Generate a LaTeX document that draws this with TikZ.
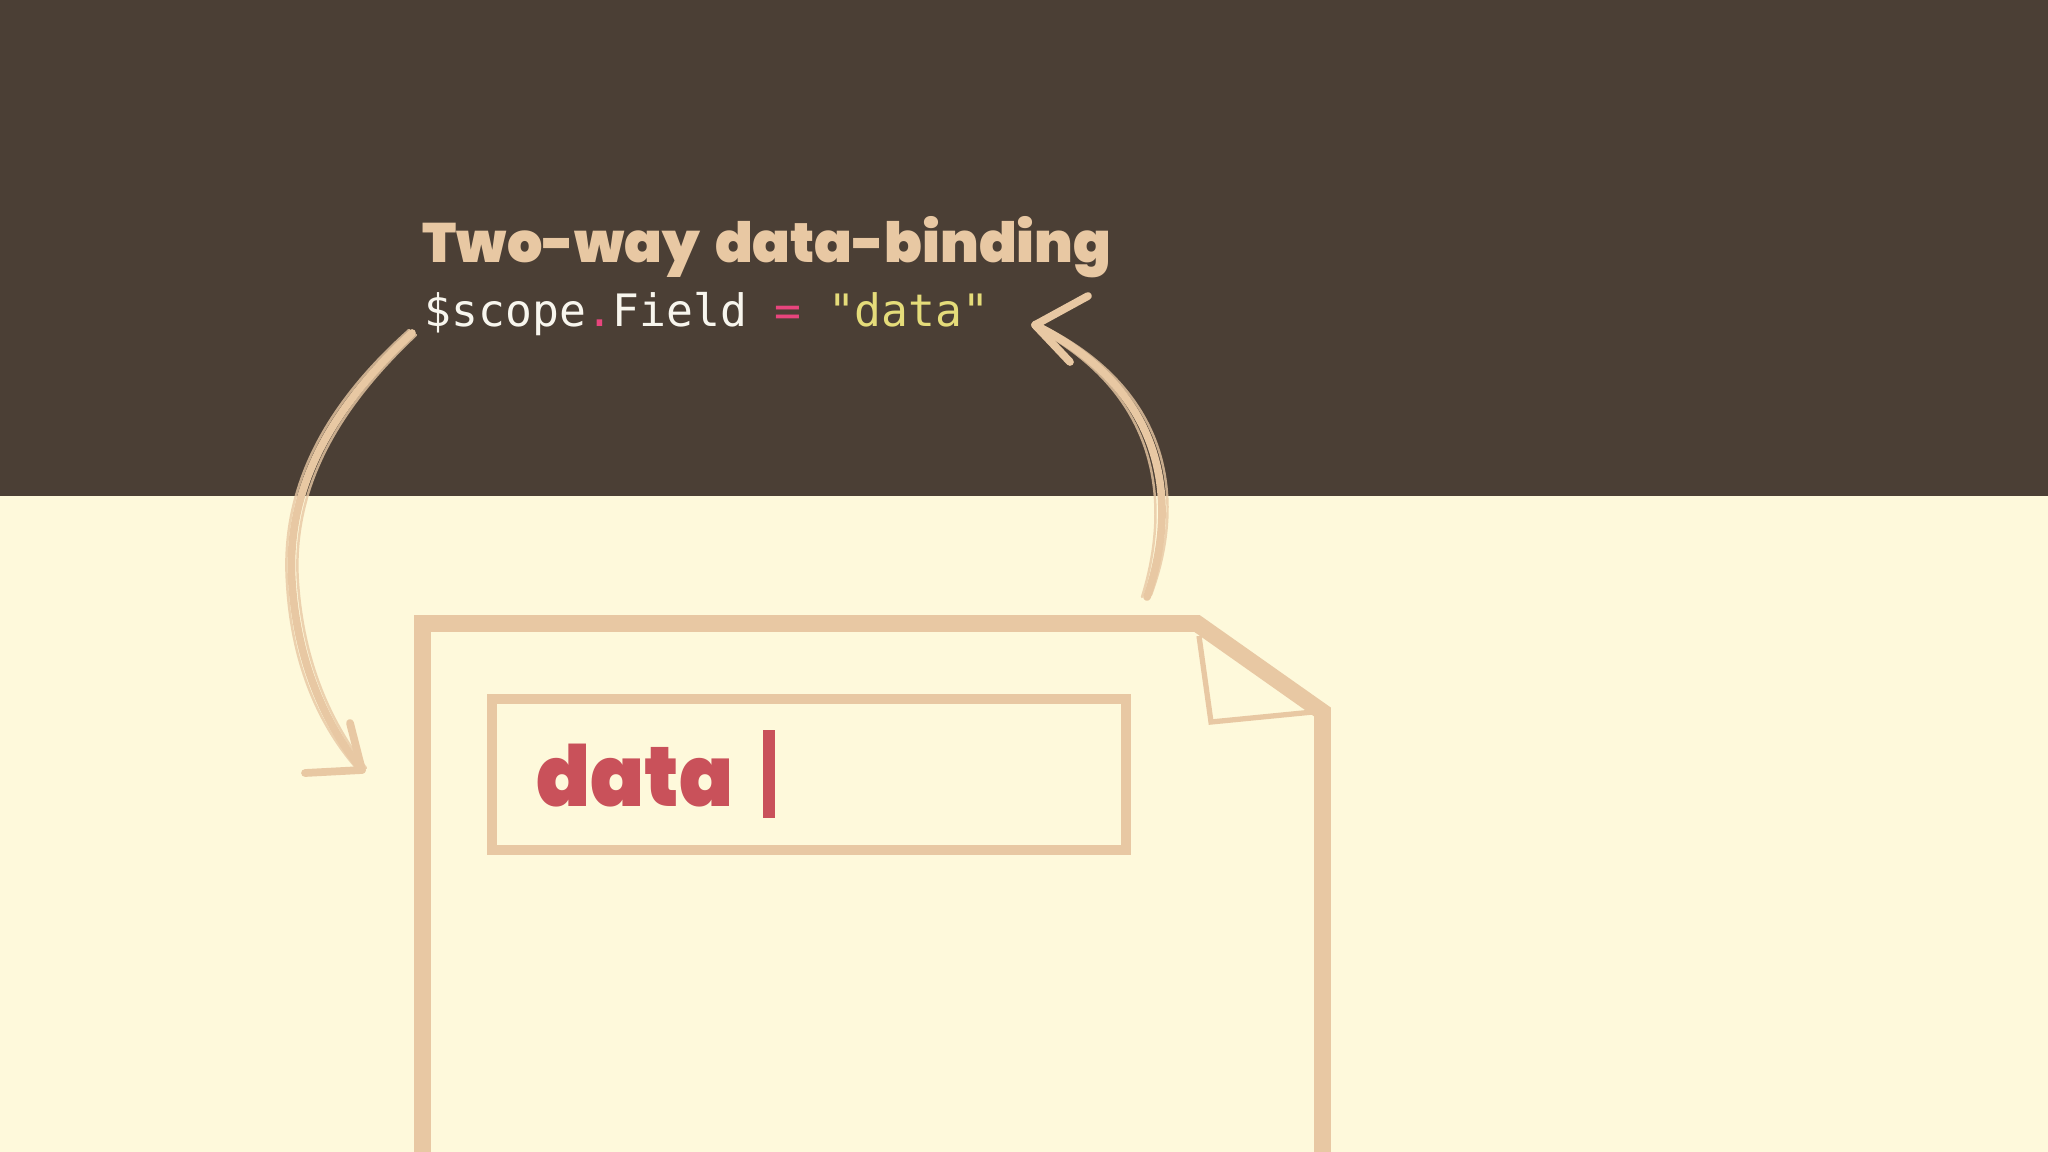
\documentclass[tikz,border=0pt]{standalone}
\usepackage{fontspec}
\setmainfont{Lato}
\setmonofont{DejaVu Sans Mono}
\IfFontExistsTF{Poppins Black}{\newfontfamily\heavyfont{Poppins Black}[WordSpace=1.6]\newfontfamily\condfont{Poppins Black}[FakeStretch=0.94]}{\newfontfamily\heavyfont{Lato Black}\newfontfamily\condfont{Lato Black}}
\usetikzlibrary{positioning}
\definecolor{bgdark}{HTML}{4B3F35}
\definecolor{bgcream}{HTML}{FEF9DB}
\definecolor{sand}{HTML}{E8C8A3}
\definecolor{datared}{HTML}{C9515A}
\definecolor{codewhite}{HTML}{F8F6EE}
\definecolor{codepink}{HTML}{E8457D}
\definecolor{codeyellow}{HTML}{E5DC7A}

\begin{document}
\begin{tikzpicture}[x=0.01cm, y=-0.01cm,
					brush/.style={draw=sand, line width=2.2pt, line cap=round, line join=round},
					brush trace/.style={draw=sand, line width=0.7pt, line cap=round, opacity=0.8},
					heading/.style={text=sand, font=\heavyfont\fontsize{15.8}{20}\selectfont, inner sep=0pt, anchor=base west},
					codeline/.style={font=\ttfamily\fontsize{12.7}{15}\selectfont, inner sep=0pt, anchor=base west},
					inputbox/.style={draw=sand, line width=3pt, minimum width=6.34cm, minimum height=1.51cm, inner sep=0pt},
					inputtext/.style={text=datared, font=\condfont\fontsize{24}{28}\selectfont, inner sep=0pt, anchor=base west},
					caretbar/.style={fill=datared, minimum width=0.12cm, minimum height=0.88cm, inner sep=0pt}]
					\useasboundingbox (0,0) rectangle (2048,1152);
					\clip (0,0) rectangle (2048,1152);
					\fill[bgcream] (0,0) rectangle (2048,1152);
					\fill[bgdark] (0,0) rectangle (2048,496);
					\node[heading] (title) at (422,263) {Two-way data-binding};
					\node[codeline] (code) at (424,327) {\color{codewhite}\$scope\color{codepink}.\color{codewhite}Field \color{codepink}= \color{codeyellow}"data"};
					\draw[sand, line width=4.8pt, line join=miter] (422.5,1190) -- (422.5,623.5) -- (1197,623.5) -- (1322.5,712) -- (1322.5,1190);
					\draw[sand, line width=1.5pt, line join=miter] (1199,636) -- (1211,722) -- (1313,712);
					\node[inputbox] (field) at (809,774.5) {};
					\node[inputtext] (word) at (536,806) {data};
					\node[caretbar, anchor=west] (caret) at (762,774) {};
					\coordinate (down start) at (412,333);
					\coordinate (down end) at (362,770);
					\coordinate (up start) at (1147,597);
					\coordinate (up end) at (1035,325);
					\draw[brush] (down start) .. controls (340,400) and (285,480) .. (292,583) .. controls (298,670) and (330,730) .. (down end);
					\draw[brush trace] ([shift={(4,2)}]down start) .. controls (345,402) and (291,482) .. (298,583) .. controls (304,668) and (334,726) .. ([shift={(4,-2)}]down end);
					\draw[brush trace] ([shift={(-3,-3)}]down start) .. controls (333,398) and (280,480) .. (287,583) .. controls (292,672) and (324,732) .. ([shift={(-3,1)}]down end);
					\draw[brush] (305,773) -- (down end) -- (350,723);
					\draw[brush] (up start) .. controls (1180,500) and (1165,390) .. (up end);
					\draw[brush trace] ([shift={(-5,0)}]up start) .. controls (1172,500) and (1158,394) .. ([shift={(2,4)}]up end);
					\draw[brush trace] ([shift={(4,-2)}]up start) .. controls (1187,498) and (1171,386) .. ([shift={(-1,-3)}]up end);
					\draw[brush] (1088,296) -- (up end) -- (1070,362);
\end{tikzpicture}
\end{document}
